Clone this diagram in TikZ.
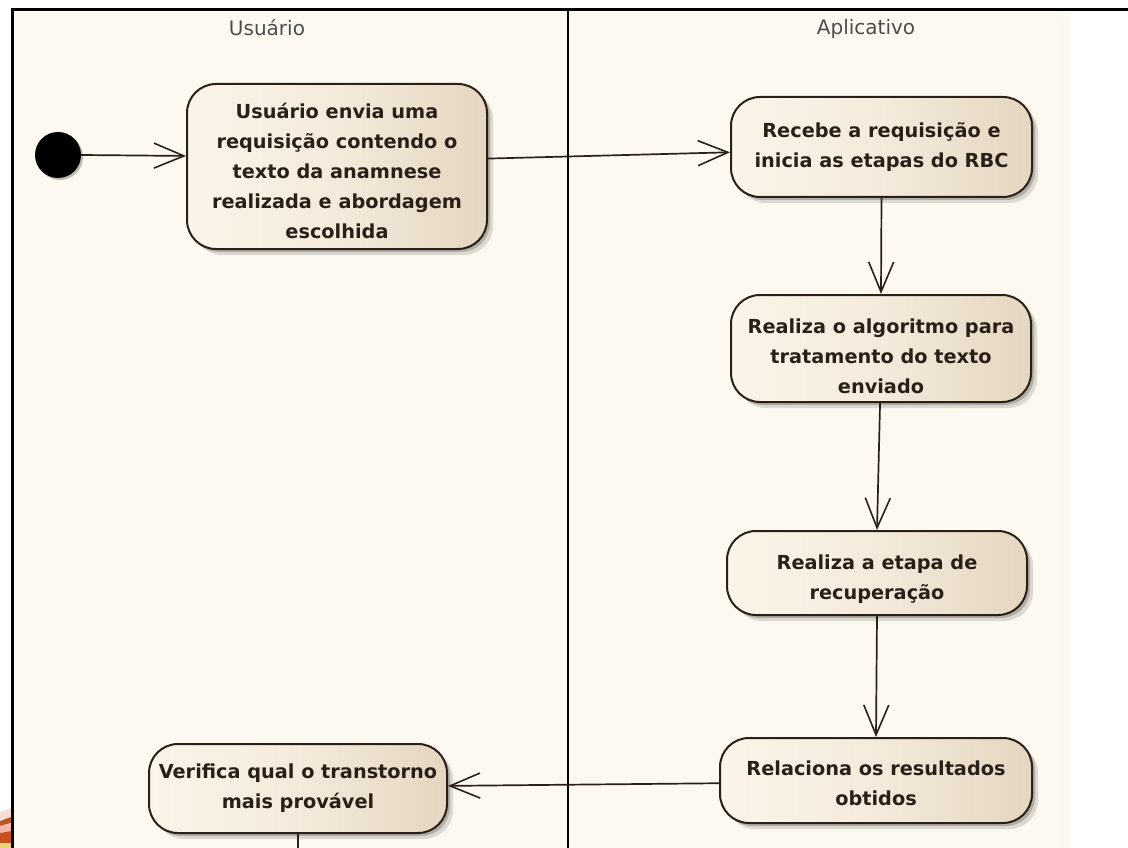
\documentclass[tikz,border=0pt]{standalone}
\usepackage{fontspec}
\setmainfont{DejaVu Sans}
\usetikzlibrary{arrows.meta,shadows,calc}
\definecolor{lane}{HTML}{FEF9F0}
\definecolor{boxl}{HTML}{FBF4E8}
\definecolor{boxr}{HTML}{E4D6C0}
\definecolor{ink}{HTML}{2A2018}
\definecolor{logoa}{HTML}{F6DDD6}
\definecolor{logob}{HTML}{B8562A}
\definecolor{logoc}{HTML}{F3B7B0}
\definecolor{logod}{HTML}{C9501E}
\definecolor{logoe}{HTML}{E9D27A}
\newcommand{\dn}[1]{\rule{0pt}{#1pt}}
\tikzset{
  x=1pt,y=-1pt,
  softshadow/.style={drop shadow={shadow xshift=6pt,shadow yshift=-6pt,fill=black,opacity=.13},
    drop shadow={shadow xshift=3pt,shadow yshift=-3pt,fill=black,opacity=.2}},
  act/.style={draw=ink,line width=2pt,rounded corners=29pt,left color=boxl,right color=boxr,middle color=boxl!70!boxr,
    softshadow,
    inner sep=0pt,align=center,font=\fontsize{19.3}{30}\selectfont\bfseries,text=ink},
  lanetitle/.style={font=\fontsize{20}{24}\selectfont,text=black!70},
  flow/.style={draw=ink,line width=1.7pt,-{Straight Barb[length=30pt,width=25pt,line width=1.6pt]}},
  frameline/.style={draw=black,line width=3pt}
}
\begin{document}
\begin{tikzpicture}
\useasboundingbox (0,0) rectangle (1128,848);
\fill[white] (0,0) rectangle (1128,848);
\fill[lane] (13,9) rectangle (1070,848);
% logo fragment
\fill[logoa] (0,812) -- (11,808) -- (11,817) -- (0,820) -- cycle;
\fill[logob] (0,821) -- (11,817) -- (11,823) -- (0,826) -- cycle;
\fill[logoc] (0,826) -- (11,823) -- (11,831) -- (0,833) -- cycle;
\fill[logod] (0,833) -- (11,831) -- (11,843) -- (0,843) -- cycle;
\fill[logoe] (0,843) -- (11,843) -- (11,848) -- (0,848) -- cycle;
% lanes
\coordinate (tl) at (12.5,9.5);
\coordinate (tr) at (1128,9.5);
\coordinate (bl) at (12.5,848);
\coordinate (lt) at (568,9.5);
\coordinate (lb) at (568,848);
\draw[frameline] (bl) -- (tl) -- (tr);
\draw[draw=black,line width=1.8pt] (lt) -- (lb);
\node[lanetitle] (uu) at (267,28) {Usuário};
\node[lanetitle] (ap) at (866,29) {Aplicativo};
% start
\node[circle,fill=black,minimum size=46pt,inner sep=0pt,drop shadow={shadow xshift=2pt,shadow yshift=-2pt,fill=black,opacity=.25}] (st) at (58,155) {};
% activities
\node[act,minimum width=300pt,minimum height=165pt] (a) at (337,166.5) {\dn{24}Usuário envia uma\\requisição contendo o\\texto da anamnese\\realizada e abordagem\\escolhida};
\node[act,minimum width=301pt,minimum height=100pt] (b) at (881.5,147) {Recebe a requisição e\\inicia as etapas do RBC};
\node[act,minimum width=300pt,minimum height=107pt] (c) at (881,348.5) {\dn{30}Realiza o algoritmo para\\tratamento do texto\\enviado};
\node[act,minimum width=300pt,minimum height=84pt] (d) at (877,573) {\dn{28}Realiza a etapa de\\recuperação};
\node[act,minimum width=312pt,minimum height=85pt] (e) at (876,780.5) {\dn{20}Relaciona os resultados\\obtidos};
\node[act,minimum width=298pt,minimum height=89pt] (f) at (298,788.5) {Verifica qual o transtorno\\mais provável};
\coordinate (out) at (298,848);
% flows
\draw[flow] (st.east) -- (a.176.8);
\draw[flow] (a.3.2) -- (b.182.3);
\draw[flow] (b.south) -- (c.north);
\draw[flow] (c.-91.5) -- (d.north);
\draw[flow] (d.south) -- (e.north);
\draw[flow] (e.181.3) -- (f.1.7);
\draw[draw=ink,line width=1.7pt] (f.south) -- (out);
\end{tikzpicture}
\end{document}
